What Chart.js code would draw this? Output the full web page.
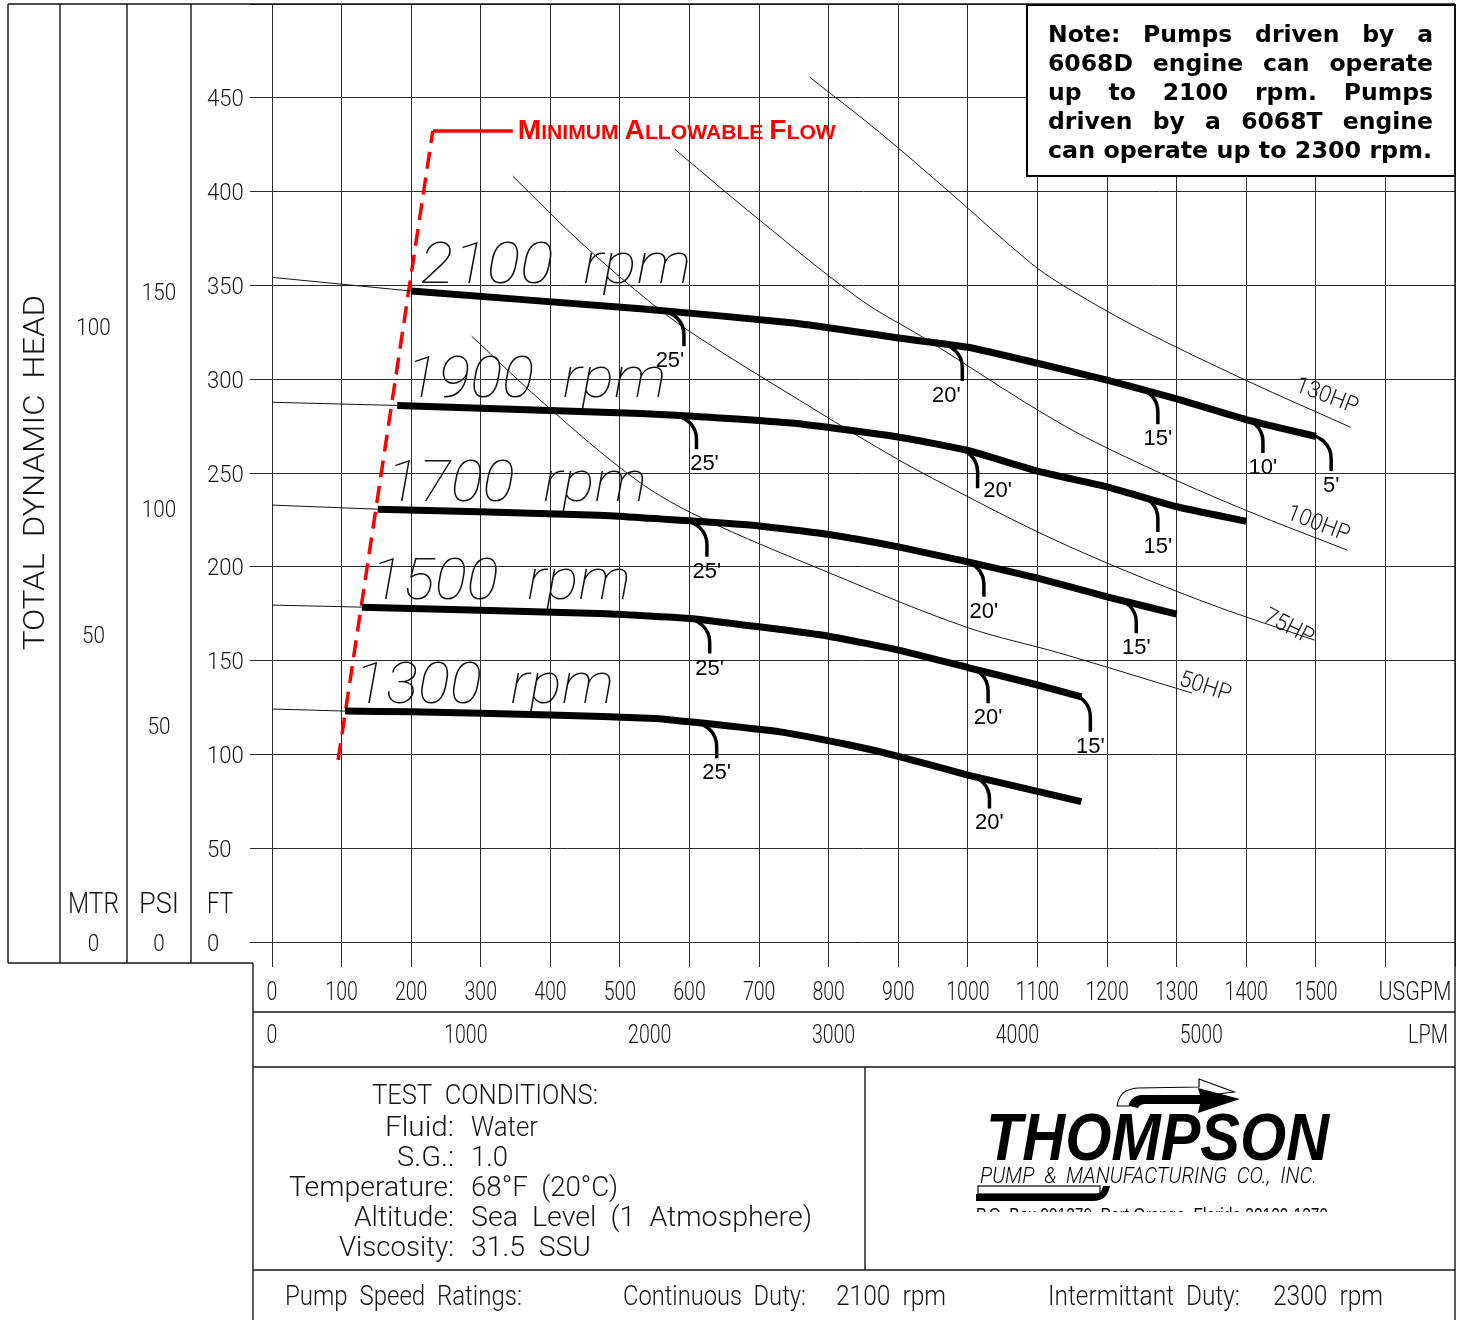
<!DOCTYPE html>
<html>
<head>
<meta charset="utf-8">
<script src="https://cdn.jsdelivr.net/npm/chart.js@4.4.1/dist/chart.umd.min.js"></script>
<style>
  html, body { margin: 0; padding: 0; background: #fff; }
  #wrap { width: 1466px; height: 1320px; }
</style>
</head>
<body>
<div id="wrap"><canvas id="pumpChart" width="1466" height="1320"></canvas></div>
<script>
// ---- values: flow in USGPM, head in feet ----
const gpmTicks = [0, 100, 200, 300, 400, 500, 600, 700, 800, 900, 1000, 1100, 1200, 1300, 1400, 1500, 1600, 1700];
const gpmLabels = ['0', '100', '200', '300', '400', '500', '600', '700', '800', '900', '1000', '1100', '1200', '1300', '1400', '1500', '', ''];
const lpmTicks = [0, 1000, 2000, 3000, 4000, 5000];
const ftTicks = [0, 50, 100, 150, 200, 250, 300, 350, 400, 450, 500];
const psiTicks = [0, 50, 100, 150];
const mtrTicks = [0, 50, 100];

const rpmNames = ['2100 rpm', '1900 rpm', '1700 rpm', '1500 rpm', '1300 rpm'];
const head2100 = [[200, 347], [530, 337.5], [750, 330], [900, 322], [1000, 317], [1100, 308.5], [1200, 299.5], [1300, 289.5], [1400, 278.5], [1500, 269.5]];
const head1900 = [[180, 286], [530, 281.7], [600, 280.4], [750, 276.5], [900, 269.2], [1000, 262], [1100, 251], [1200, 242.6], [1300, 232], [1400, 224.3]];
const head1700 = [[152, 230.7], [470, 227.5], [600, 224.5], [700, 221.8], [800, 217.2], [900, 210.6], [1000, 202.6], [1100, 194], [1200, 184], [1300, 174.8]];
const head1500 = [[129, 178.5], [470, 175.1], [600, 172.5], [700, 168], [800, 163], [900, 155.6], [1000, 146.3], [1100, 137], [1163, 130.7]];
const head1300 = [[105, 123.1], [200, 122.7], [400, 121], [550, 119.2], [600, 117.4], [730, 112], [830, 105], [900, 99], [1000, 89], [1163, 74.8]];
const shutoffHead = [354.3, 287.7, 232.9, 179.6, 124.2]; // thin lead-in at 0 gpm

const hpNames = ['130HP', '100HP', '75HP', '50HP'];
const hp130 = [[773, 460.9], [873, 431.6], [974, 399.6], [1089, 362.3], [1132, 351.1], [1237, 328.8], [1399, 299.5], [1550, 274.4]];
const hp100 = [[579, 422.5], [701, 384.7], [845, 342.6], [935, 322.4], [1132, 276.6], [1261, 252.6], [1399, 230.2], [1545, 208.9]];
const hp75 = [[346, 408.2], [442, 373.5], [549, 339.4], [615, 321.8], [758, 288.8], [869, 263.8], [949, 247.2], [1132, 213.1], [1333, 182.2], [1498, 160.9]];
const hp50 = [[287, 322.9], [392, 286.7], [524, 246.2], [615, 226.5], [802, 196.6], [998, 167.8], [1132, 154], [1322, 132.7]];

const minFlow = [[95, 97], [231, 432.3]];
const minFlowTail = [[231, 432.3], [346, 432.3]];

// NPSH hooks: [curve index, gpm where hook drops, head at hook foot, label]
const npshHooks = [
  [0, 592, 317.6, "25'"], [0, 992, 299.1, "20'"], [0, 1273, 276, "15'"], [0, 1424, 260.7, "10'"], [0, 1522, 251.1, "5'"],
  [1, 610, 262.7, "25'"], [1, 1014, 241.9, "20'"], [1, 1273, 218.6, "15'"],
  [2, 625, 205.3, "25'"], [2, 1023, 184, "20'"], [2, 1242, 164.6, "15'"],
  [3, 629, 153.8, "25'"], [3, 1029, 127.2, "20'"], [3, 1176, 112.1, "15'"],
  [4, 639, 97.9, "25'"], [4, 1031, 71.2, "20'"]
];

const ftPerPsi = 2.31;
const ftPerMtr = 3.281;
const lpmPerGpm = 3.785;

// ---- style bits ----
const CAD = 'Roboto, "DejaVu Sans", sans-serif';
const INK = '#151515';
const hookNudge = { 0: [-14, 0], 1: [-16, 0], 5: [8, 0], 6: [20, -12] };
const hpLabelAt = [[-24, -33, 21], [-29, -28, 21], [-26, -15, 27], [13, -8, 18]];

const curves = [head2100, head1900, head1700, head1500, head1300];
const hpLines = [hp130, hp100, hp75, hp50];
const pts = (arr) => arr.map(p => ({ x: p[0], y: p[1] }));

function headAt(curve, g) {
  for (let i = 1; i < curve.length; i++) {
    if (g <= curve[i][0]) {
      const a = curve[i - 1], b = curve[i];
      return a[1] + (b[1] - a[1]) * (g - a[0]) / (b[0] - a[0]);
    }
  }
  return curve[curve.length - 1][1];
}

function put(ctx, s, x, y, o) {
  o = o || {};
  const size = o.size || 24;
  const base = o.base || 'middle';
  // the drafting font sits a little lower than the em-box middle
  if (base === 'middle' && !o.family) y += 2.5;
  ctx.save();
  ctx.font = (o.italic ? 'italic ' : '') + (o.weight || 300) + ' ' + size + 'px ' + (o.family || CAD);
  ctx.fillStyle = o.color || INK;
  ctx.textBaseline = base;
  ctx.textAlign = o.align || 'left';
  let sx = o.sx || 1;
  if (o.w) sx = o.w / ctx.measureText(s).width;
  ctx.translate(x, y);
  if (o.rot) ctx.rotate(o.rot * Math.PI / 180);
  ctx.scale(sx, 1);
  ctx.fillText(s, 0, 0);
  ctx.restore();
}

function seg(ctx, x1, y1, x2, y2) {
  ctx.beginPath();
  ctx.moveTo(x1, y1);
  ctx.lineTo(x2, y2);
  ctx.stroke();
}

const datasets = [];
curves.forEach((c, i) => {
  datasets.push({ label: rpmNames[i] + ' lead', data: pts([[0, shutoffHead[i]], c[0]]), borderColor: INK, borderWidth: 1, tension: 0 });
  datasets.push({ label: rpmNames[i], data: pts(c), borderColor: '#000', borderWidth: 7, tension: 0.15, borderCapStyle: 'butt' });
  datasets.push({ label: rpmNames[i] + ' inner', data: pts(c), borderColor: 'rgba(255,255,255,0.3)', borderWidth: 1, tension: 0.15 });
});
hpLines.forEach((c, i) => {
  datasets.push({ label: hpNames[i], data: pts(c), borderColor: INK, borderWidth: 1, tension: 0.35 });
});
datasets.push({ label: 'min flow', data: pts(minFlow), borderColor: '#ff0000', borderWidth: 3.5, borderDash: [17, 9], tension: 0 });
datasets.push({ label: 'min flow tail', data: pts(minFlowTail), borderColor: '#ff0000', borderWidth: 3.5, tension: 0 });

const sheetPlugin = {
  id: 'sheet',
  beforeDraw(chart) {
    const ctx = chart.ctx;
    ctx.save();
    ctx.fillStyle = '#fff';
    ctx.fillRect(0, 0, chart.width, chart.height);
    ctx.restore();
  },
  afterDatasetsDraw(chart) {
    const ctx = chart.ctx;
    const sx = chart.scales.x, sy = chart.scales.y;
    const X = (g) => sx.getPixelForValue(g);
    const Y = (f) => sy.getPixelForValue(f);

    // NPSH hooks
    ctx.save();
    ctx.strokeStyle = '#000';
    ctx.lineWidth = 3.5;
    npshHooks.forEach((h, i) => {
      const c = curves[h[0]];
      const gs = h[1] - 34;
      const xs = X(gs), ys = Y(headAt(c, gs));
      const xv = X(h[1]), yb = Y(h[2]);
      const bend = Math.min(24, yb - ys - 2);
      ctx.beginPath();
      ctx.moveTo(xs, ys);
      ctx.bezierCurveTo(xs + (xv - xs) * 0.55, ys + 1, xv, ys + bend * 0.45, xv, ys + bend);
      ctx.lineTo(xv, yb);
      ctx.stroke();
      const n = hookNudge[i] || [0, 0];
      put(ctx, h[3], xv + n[0], yb + 15 + n[1], { size: 22, weight: 400, family: '"Liberation Sans", Arial, sans-serif', align: 'center', color: '#000' });
    });
    ctx.restore();

    // speed labels
    curves.forEach((c, i) => {
      put(ctx, rpmNames[i].replace(' ', '  '), X(c[0][0]) + 9, Y(c[0][1]) - 8,
        { size: 57, weight: 100, italic: true, base: 'alphabetic', w: i === 0 ? 271 : 260, color: '#111' });
    });

    // horsepower labels
    hpLines.forEach((c, i) => {
      const e = c[c.length - 1];
      const a = hpLabelAt[i];
      put(ctx, hpNames[i], X(e[0]) + a[0], Y(e[1]) + a[1], { size: 23, align: 'center', rot: a[2], sx: 0.95 });
    });

    // minimum flow caption
    const parts = [['M', 28], ['INIMUM', 21], [' ', 21], ['A', 28], ['LLOWABLE', 21], [' ', 21], ['F', 28], ['LOW', 21]];
    ctx.save();
    let tot = 0;
    parts.forEach(p => { ctx.font = 'bold ' + p[1] + 'px "Liberation Sans", Arial, sans-serif'; tot += ctx.measureText(p[0]).width; });
    const k = 318 / tot;
    const x0 = X(minFlowTail[1][0]) + 5, yb = Y(minFlowTail[1][1]) + 8;
    ctx.translate(x0, yb);
    ctx.scale(k, 1);
    ctx.fillStyle = '#ff0000';
    ctx.textBaseline = 'alphabetic';
    let cx = 0;
    parts.forEach(p => {
      ctx.font = 'bold ' + p[1] + 'px "Liberation Sans", Arial, sans-serif';
      ctx.fillText(p[0], cx, 0);
      cx += ctx.measureText(p[0]).width;
    });
    ctx.restore();

    // note box
    ctx.save();
    const bx = 1027, by = 5, bw = 428, bh = 171;
    ctx.fillStyle = '#fff';
    ctx.fillRect(bx, by, bw, bh);
    ctx.strokeStyle = '#000';
    ctx.lineWidth = 2;
    ctx.strokeRect(bx, by, bw, bh);
    const noteLines = ['Note:  Pumps  driven  by  a', '6068D  engine  can  operate', 'up  to  2100  rpm.  Pumps', 'driven  by  a  6068T  engine', 'can operate up to 2300 rpm.'];
    ctx.font = 'bold 23.5px "DejaVu Sans", Verdana, sans-serif';
    ctx.fillStyle = '#000';
    ctx.textBaseline = 'alphabetic';
    noteLines.forEach((ln, i) => {
      const yy = 42 + i * 29;
      if (i === noteLines.length - 1) {
        const w = ctx.measureText(ln).width;
        ctx.save(); ctx.translate(1048, yy); ctx.scale(384 / w, 1); ctx.fillText(ln, 0, 0); ctx.restore();
        return;
      }
      const words = ln.split(/\s+/);
      const ws = words.map(w => ctx.measureText(w).width);
      const gap = (385 - ws.reduce((a, b) => a + b, 0)) / (words.length - 1);
      let xx = 1048;
      words.forEach((w, j) => { ctx.fillText(w, xx, yy); xx += ws[j] + gap; });
    });
    ctx.restore();
  },
  afterDraw(chart) {
    const ctx = chart.ctx;
    const ca = chart.chartArea;
    const sx = chart.scales.x, sl = chart.scales.lpm, sy = chart.scales.y, sp = chart.scales.psi, sm = chart.scales.mtr;
    const H = chart.height;
    const outerL = 8, shelf = ca.bottom + 21, panelL = 253;
    const statusY = 1270, splitX = 865;

    ctx.save();
    ctx.strokeStyle = INK;
    ctx.lineWidth = 1.4;
    seg(ctx, outerL, ca.top, ca.right, ca.top);
    seg(ctx, outerL, ca.top, outerL, shelf);
    [sm.left, sp.left, sy.left].forEach(x => seg(ctx, x, ca.top, x, shelf));
    seg(ctx, outerL, shelf, panelL, shelf);
    seg(ctx, panelL, shelf, panelL, H);
    seg(ctx, ca.right, ca.top, ca.right, H);
    seg(ctx, panelL, sx.bottom, ca.right, sx.bottom);
    seg(ctx, panelL, sl.bottom, ca.right, sl.bottom);
    seg(ctx, panelL, statusY, ca.right, statusY);
    seg(ctx, splitX, sl.bottom, splitX, statusY);
    ctx.restore();

    // head scales
    ftTicks.forEach(v => { if (v <= 450) put(ctx, String(v), sy.left + 16, sy.getPixelForValue(v), { size: 24, sx: 0.92 }); });
    psiTicks.forEach(v => put(ctx, String(v), (sp.left + sp.right) / 2, sp.getPixelForValue(v), { size: 24, sx: 0.86, align: 'center' }));
    mtrTicks.forEach(v => put(ctx, String(v), (sm.left + sm.right) / 2, sm.getPixelForValue(v), { size: 24, sx: 0.86, align: 'center' }));
    const hy = ca.bottom - 39;
    put(ctx, 'MTR', (sm.left + sm.right) / 2, hy, { size: 29, w: 51, align: 'center' });
    put(ctx, 'PSI', (sp.left + sp.right) / 2, hy, { size: 29, w: 40, align: 'center' });
    put(ctx, 'FT', sy.left + 16, hy, { size: 29, w: 26 });
    put(ctx, 'TOTAL  DYNAMIC  HEAD', (outerL + sm.left) / 2 + 2, 470, { size: 30, w: 355, align: 'center', rot: -90 });

    // flow scales
    gpmTicks.forEach((v, i) => {
      if (gpmLabels[i]) put(ctx, gpmLabels[i], sx.getPixelForValue(v), sx.top + 49, { size: 25, sx: 0.78, align: 'center' });
    });
    put(ctx, 'USGPM', 1415, sx.top + 49, { size: 25, w: 73, align: 'center' });
    lpmTicks.forEach(v => put(ctx, String(v), sl.getPixelForValue(v) + (v ? 10 : 0), sl.top + 22, { size: 25, sx: 0.78, align: 'center' }));
    put(ctx, 'LPM', 1428, sl.top + 22, { size: 25, w: 40, align: 'center' });

    // test conditions
    const t0 = sl.bottom;
    put(ctx, 'TEST  CONDITIONS:', 372, t0 + 27, { size: 28, w: 226 });
    const rows = [['Fluid:', 'Water', 69, 67], ['S.G.:', '1.0', 57, 37], ['Temperature:', '68°F  (20°C)', 165, 147],
      ['Altitude:', 'Sea  Level  (1  Atmosphere)', 100, 341], ['Viscosity:', '31.5  SSU', 115, 120]];
    rows.forEach((r, i) => {
      const yy = t0 + 59 + i * 30;
      put(ctx, r[0], 454, yy, { size: 28, w: r[2], align: 'right' });
      put(ctx, r[1], 471, yy, { size: 28, w: r[3] });
    });
    const ry = statusY + 25;
    put(ctx, 'Pump  Speed  Ratings:', 285, ry, { size: 28, w: 237 });
    put(ctx, 'Continuous  Duty:', 623, ry, { size: 28, w: 183 });
    put(ctx, '2100  rpm', 836, ry, { size: 28, w: 110 });
    put(ctx, 'Intermittant  Duty:', 1048, ry, { size: 28, w: 192 });
    put(ctx, '2300  rpm', 1273, ry, { size: 28, w: 110 });

    // logo
    ctx.save();
    ctx.lineWidth = 1.2;
    ctx.strokeStyle = '#000';
    ctx.fillStyle = '#fff';
    ctx.beginPath();
    ctx.moveTo(1117, 1106);
    ctx.bezierCurveTo(1119, 1094, 1125, 1089, 1138, 1088);
    ctx.lineTo(1199, 1087);
    ctx.lineTo(1199, 1079);
    ctx.lineTo(1234, 1092);
    ctx.lineTo(1200, 1096);
    ctx.lineTo(1140, 1096);
    ctx.bezierCurveTo(1133, 1097, 1130, 1101, 1129, 1106);
    ctx.closePath();
    ctx.fill();
    ctx.stroke();
    ctx.fillStyle = '#000';
    ctx.beginPath();
    ctx.moveTo(1129, 1106);
    ctx.bezierCurveTo(1131, 1099, 1135, 1095, 1143, 1095);
    ctx.lineTo(1200, 1095);
    ctx.lineTo(1198, 1088);
    ctx.lineTo(1240, 1099);
    ctx.lineTo(1198, 1113);
    ctx.lineTo(1200, 1104);
    ctx.lineTo(1146, 1104);
    ctx.bezierCurveTo(1141, 1104, 1139, 1106, 1138, 1108);
    ctx.closePath();
    ctx.fill();
    ctx.restore();

    put(ctx, 'THOMPSON', 986, 1160, { size: 66, weight: 700, italic: true, family: '"Liberation Sans", Arial, sans-serif', base: 'alphabetic', w: 343, color: '#000' });
    put(ctx, 'PUMP  &  MANUFACTURING  CO.,  INC.', 980, 1183, { size: 22, weight: 300, italic: true, base: 'alphabetic', w: 337, color: '#000' });

    ctx.save();
    ctx.strokeStyle = '#000';
    ctx.lineWidth = 1.2;
    ctx.fillStyle = '#000';
    ctx.strokeRect(978, 1186, 122, 8);
    ctx.beginPath();
    ctx.moveTo(976, 1194);
    ctx.lineTo(1096, 1194);
    ctx.bezierCurveTo(1101, 1194, 1102, 1190, 1103, 1186);
    ctx.lineTo(1110, 1186);
    ctx.bezierCurveTo(1108, 1196, 1103, 1201, 1093, 1201);
    ctx.lineTo(976, 1201);
    ctx.closePath();
    ctx.fill();
    ctx.beginPath();
    ctx.rect(960, 1203, 380, 9);
    ctx.clip();
    put(ctx, 'P.O. Box 291370  Port Orange, Florida 32129-1370', 976, 1222, { size: 20, weight: 400, family: '"Liberation Sans", Arial, sans-serif', base: 'alphabetic', w: 352, color: '#000' });
    ctx.restore();
  }
};

const ctx = document.getElementById('pumpChart').getContext('2d');
const chart = new Chart(ctx, {
  type: 'line',
  data: { datasets: datasets },
  options: {
    responsive: false,
    devicePixelRatio: 1,
    animation: false,
    events: [],
    layout: { autoPadding: false, padding: { left: 60, top: 4, right: 11, bottom: 253 } },
    elements: { point: { radius: 0 } },
    plugins: { legend: { display: false }, tooltip: { enabled: false } },
    scales: {
      x: {
        type: 'linear', position: 'bottom', weight: 0, min: 0, max: 1700,
        afterBuildTicks: (s) => { s.ticks = gpmTicks.map(v => ({ value: v })); },
        ticks: { display: false },
        grid: { color: '#2a2a2a', lineWidth: 1, tickLength: 25 },
        border: { display: false },
        afterFit: (s) => { s.height = 70; }
      },
      lpm: {
        type: 'linear', position: 'bottom', weight: 1, min: 0, max: 1700 * lpmPerGpm,
        afterBuildTicks: (s) => { s.ticks = lpmTicks.map(v => ({ value: v })); },
        ticks: { display: false },
        grid: { display: false },
        border: { display: false },
        afterFit: (s) => { s.height = 55; }
      },
      y: {
        type: 'linear', position: 'left', weight: 1, min: 0, max: 500,
        afterBuildTicks: (s) => { s.ticks = ftTicks.map(v => ({ value: v })); },
        ticks: { display: false },
        grid: { color: '#2a2a2a', lineWidth: 1, tickLength: 22 },
        border: { display: false },
        afterFit: (s) => { s.width = 81; }
      },
      psi: {
        type: 'linear', position: 'left', weight: 2, min: 0, max: 500 / ftPerPsi,
        afterBuildTicks: (s) => { s.ticks = psiTicks.map(v => ({ value: v })); },
        ticks: { display: false },
        grid: { display: false },
        border: { display: false },
        afterFit: (s) => { s.width = 64; }
      },
      mtr: {
        type: 'linear', position: 'left', weight: 3, min: 0, max: 500 / ftPerMtr,
        afterBuildTicks: (s) => { s.ticks = mtrTicks.map(v => ({ value: v })); },
        ticks: { display: false },
        grid: { display: false },
        border: { display: false },
        afterFit: (s) => { s.width = 67; }
      }
    }
  },
  plugins: [sheetPlugin]
});
</script>
</body>
</html>
